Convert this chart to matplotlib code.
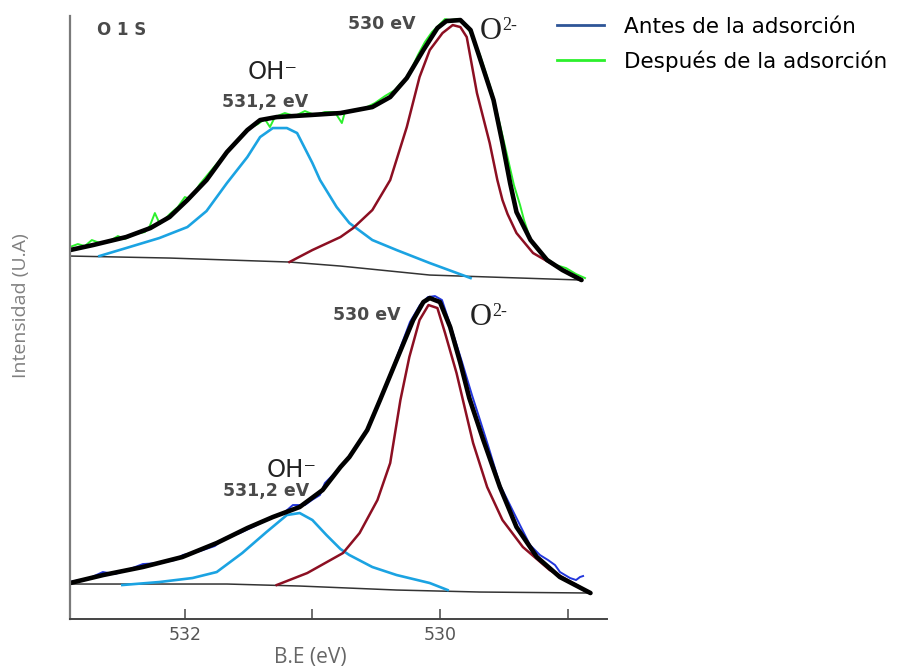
import matplotlib
matplotlib.use("Agg")
import matplotlib.pyplot as plt
from matplotlib.lines import Line2D

# espectro superior (despues de la adsorcion)
sup_env_x = [532.90, 532.72, 532.46, 532.27, 532.12, 531.98, 531.83, 531.67, 531.51, 531.41,
             531.28, 531.02, 530.78, 530.53, 530.39, 530.26, 530.13, 530.02, 529.95, 529.84,
             529.76, 529.69, 529.58, 529.51, 529.45, 529.40, 529.29, 529.16, 529.04, 528.89]
sup_env_y = [369, 374, 382, 391, 402, 419, 439, 467, 489, 499,
             502, 504, 506, 512, 522, 541, 569, 591, 598, 599,
             589, 562, 519, 476, 436, 407, 379, 359, 349, 339]

sup_o2_x = [531.18, 531.00, 530.78, 530.68, 530.53, 530.39, 530.26, 530.16, 530.08, 529.98,
            529.90, 529.84, 529.79, 529.71, 529.61, 529.55, 529.51, 529.47, 529.40, 529.27,
            529.08, 528.90]
sup_o2_y = [357, 369, 382, 391, 409, 439, 492, 542, 569, 586,
            594, 592, 582, 526, 476, 439, 419, 405, 386, 366,
            352, 339]

sup_oh_x = [532.67, 532.46, 532.20, 531.98, 531.83, 531.67, 531.51, 531.41, 531.31, 531.20,
            531.12, 531.00, 530.94, 530.81, 530.71, 530.53, 530.34, 530.08, 529.76]
sup_oh_y = [363, 371, 381, 392, 408, 436, 462, 482, 491, 491,
            486, 456, 439, 412, 396, 379, 369, 356, 341]

sup_base_x = [532.90, 532.12, 531.18, 530.78, 530.08, 528.89]
sup_base_y = [363, 361, 357, 353, 344, 339]

sup_dat_x = [532.902, 532.839, 532.784, 532.729, 532.667, 532.588, 532.525, 532.471, 532.392, 532.314,
             532.275, 532.235, 532.196, 532.118, 532.055, 532.000, 531.961, 531.882, 531.804, 531.725,
             531.647, 531.569, 531.490, 531.427, 531.373, 531.333, 531.294, 531.216, 531.137, 531.059,
             530.980, 530.902, 530.824, 530.769, 530.745, 530.667, 530.588, 530.510, 530.431, 530.353,
             530.314, 530.275, 530.220, 530.173, 530.118, 530.063, 530.000, 529.961, 529.922, 529.859,
             529.804, 529.749, 529.686, 529.592, 529.529, 529.474, 529.420, 529.372, 529.341, 529.294,
             529.247, 529.168, 529.090, 529.012, 528.933, 528.863]
sup_dat_y = [372, 375, 373, 379, 376, 378, 383, 380, 385, 387,
             393, 406, 395, 405, 412, 422, 420, 435, 447, 459,
             471, 481, 491, 495, 500, 492, 502, 506, 503, 508,
             504, 507, 507, 496, 507, 509, 511, 516, 523, 529,
             535, 539, 551, 564, 577, 587, 595, 600, 599, 600,
             595, 584, 564, 527, 494, 464, 434, 414, 399, 381,
             371, 361, 354, 351, 345, 341]

# espectro inferior (antes de la adsorcion)
inf_env_x = [532.90, 532.64, 532.33, 532.02, 531.75, 531.51, 531.31, 531.10, 530.92, 530.78,
             530.71, 530.57, 530.47, 530.34, 530.21, 530.13, 530.08, 530.00, 529.92, 529.84,
             529.77, 529.66, 529.53, 529.40, 529.24, 529.06, 528.82]
inf_env_y = [36, 44, 52, 62, 76, 91, 102, 112, 129, 152,
             162, 189, 219, 259, 299, 317, 321, 317, 292, 256,
             221, 179, 132, 92, 62, 42, 26]

inf_o2_x = [531.28, 531.04, 530.76, 530.63, 530.49, 530.39, 530.31, 530.24, 530.16, 530.09,
            530.02, 529.96, 529.87, 529.82, 529.74, 529.63, 529.51, 529.35, 529.14, 528.82]
inf_o2_y = [34, 46, 66, 86, 119, 156, 219, 262, 299, 314,
            311, 286, 246, 219, 176, 132, 99, 72, 49, 26]

inf_oh_x = [532.49, 532.20, 531.94, 531.75, 531.55, 531.36, 531.20, 531.10, 531.00, 530.89,
            530.78, 530.71, 530.53, 530.34, 530.08, 529.94]
inf_oh_y = [34, 37, 41, 47, 66, 87, 104, 106, 99, 84,
            70, 64, 52, 44, 36, 29]

inf_base_x = [532.90, 531.67, 531.10, 530.34, 529.69, 528.82]
inf_base_y = [35, 35, 33, 29, 27, 26]

inf_dat_x = [532.902, 532.745, 532.643, 532.549, 532.431, 532.329, 532.196, 532.078, 532.016, 531.882,
             531.765, 531.686, 531.569, 531.451, 531.333, 531.216, 531.153, 531.059, 531.004, 530.941,
             530.902, 530.824, 530.745, 530.690, 530.627, 530.549, 530.471, 530.353, 530.235, 530.157,
             530.094, 530.039, 529.984, 529.906, 529.827, 529.749, 529.686, 529.624, 529.529, 529.451,
             529.373, 529.294, 529.216, 529.153, 529.098, 529.059, 528.980, 528.933, 528.902, 528.878]
inf_dat_y = [37, 41, 47, 45, 50, 55, 56, 59, 64, 68,
             73, 81, 86, 93, 101, 107, 114, 114, 119, 124,
             136, 146, 157, 167, 179, 194, 219, 257, 297, 314,
             322, 323, 319, 289, 257, 224, 199, 174, 134, 114,
             94, 74, 64, 59, 54, 47, 41, 39, 42, 43]

ticks = [532, 531, 530, 529]
tick_labels = ["532", "", "530", ""]

c_env = "#000000"
c_o2 = "#8c0f22"
c_oh = "#1ba3e2"
c_verde = "#2cf02c"
c_azul = "#2236dc"
c_base = "#333333"

fig = plt.figure(figsize=(8.98, 6.69), dpi=100)
ax = fig.add_axes([0.078, 0.0747, 0.598, 0.9013])

# superior
ax.plot(sup_base_x, sup_base_y, color=c_base, lw=1.1)
ax.plot(sup_oh_x, sup_oh_y, color=c_oh, lw=1.9, solid_joinstyle="round")
ax.plot(sup_o2_x, sup_o2_y, color=c_o2, lw=1.8, solid_joinstyle="round")
ax.plot(sup_dat_x, sup_dat_y, color=c_verde, lw=1.4)
ax.plot(sup_env_x, sup_env_y, color=c_env, lw=3.3, solid_capstyle="round", solid_joinstyle="round")

# inferior
ax.plot(inf_base_x, inf_base_y, color=c_base, lw=1.1)
ax.plot(inf_oh_x, inf_oh_y, color=c_oh, lw=1.9, solid_joinstyle="round")
ax.plot(inf_o2_x, inf_o2_y, color=c_o2, lw=1.8, solid_joinstyle="round")
ax.plot(inf_dat_x, inf_dat_y, color=c_azul, lw=1.4)
ax.plot(inf_env_x, inf_env_y, color=c_env, lw=3.3, solid_capstyle="round", solid_joinstyle="round")

ax.set_xlim(532.90, 528.69)
ax.set_ylim(0, 603)
ax.set_xticks(ticks)
ax.set_xticklabels(tick_labels)
ax.set_yticks([])
ax.tick_params(axis="x", direction="in", length=7, width=1.2, color="#555555",
               labelsize=12.5, labelcolor="#555555", pad=5)
ax.spines["top"].set_visible(False)
ax.spines["right"].set_visible(False)
ax.spines["left"].set_color("#7a7a7a")
ax.spines["left"].set_linewidth(1.6)
ax.spines["bottom"].set_color("#444444")
ax.spines["bottom"].set_linewidth(1.4)

# textos
gris = "#4a4a4a"
ax.text(532.69, 589, "O 1 S", fontsize=12, fontweight="bold", color=gris, va="center")
ax.text(531.51, 547, "OH\u207b", fontsize=17.5, color="#222222", va="center")
ax.text(531.71, 517, "531,2 eV", fontsize=12.5, fontweight="bold", color=gris, va="center")
ax.text(530.72, 595, "530 eV", fontsize=12.5, fontweight="bold", color=gris, va="center")
ax.text(529.69, 588, "O", fontsize=22, family="Liberation Serif", color="#222222", va="center")
ax.text(529.51, 594, "2-", fontsize=13, family="Liberation Serif", color="#222222", va="center")

ax.text(531.36, 149, "OH\u207b", fontsize=17.5, color="#222222", va="center")
ax.text(531.70, 128, "531,2 eV", fontsize=12.5, fontweight="bold", color=gris, va="center")
ax.text(530.84, 304, "530 eV", fontsize=12.5, fontweight="bold", color=gris, va="center")
ax.text(529.77, 302, "O", fontsize=22, family="Liberation Serif", color="#222222", va="center")
ax.text(529.59, 308, "2-", fontsize=13, family="Liberation Serif", color="#222222", va="center")

fig.text(21 / 898, 1 - 306 / 669, "Intensidad (U.A)", rotation=90, ha="center", va="center",
         fontsize=14, color="#808080", family="Open Sans")
fig.text(310 / 898, 1 - 657 / 669, "B.E (eV)", ha="center", va="center",
         fontsize=15, color="#666666", family="Open Sans")

handles = [Line2D([], [], color="#2e5597", lw=2), Line2D([], [], color=c_verde, lw=2)]
fig.legend(handles, ["Antes de la adsorción", "Después de la adsorción"],
           loc="upper left", bbox_to_anchor=(557 / 898, 1 - 17 / 669), frameon=False,
           prop={"family": "DejaVu Sans", "size": 15.5}, handlelength=2.2,
           handletextpad=0.9, labelspacing=0.62, borderpad=0, borderaxespad=0)

fig.savefig("out.png", dpi=100)
